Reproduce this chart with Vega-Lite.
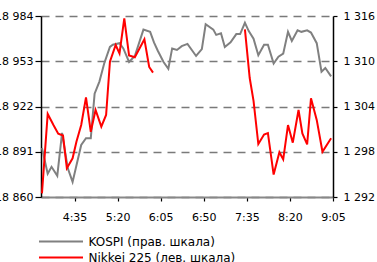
{
  "$schema": "https://vega.github.io/schema/vega-lite/v6.json",
  "width": 292,
  "height": 181,
  "autosize": {"type": "none"},
  "padding": {"left": 41, "top": 16, "right": 44, "bottom": 65},
  "background": "white",
  "config": {
    "font": "DejaVu Sans",
    "view": {"stroke": null},
    "axis": {"labelFont": "DejaVu Sans", "labelFontSize": 11, "labelColor": "#000", "domainColor": "#000", "tickColor": "#000", "domainWidth": 1.5, "tickWidth": 1.2, "title": null},
    "legend": {"labelFont": "DejaVu Sans", "labelFontSize": 12, "labelColor": "#000"}
  },
  "data": {"values": [
    {"index": "KOSPI", "session": 1, "time": "2024-01-01T04:01", "value": 1298.5},
    {"index": "KOSPI", "session": 1, "time": "2024-01-01T04:07", "value": 1295.1},
    {"index": "KOSPI", "session": 1, "time": "2024-01-01T04:11", "value": 1296.0},
    {"index": "KOSPI", "session": 1, "time": "2024-01-01T04:17", "value": 1294.8},
    {"index": "KOSPI", "session": 1, "time": "2024-01-01T04:22", "value": 1300.5},
    {"index": "KOSPI", "session": 1, "time": "2024-01-01T04:28", "value": 1295.8},
    {"index": "KOSPI", "session": 1, "time": "2024-01-01T04:33", "value": 1294.0},
    {"index": "KOSPI", "session": 1, "time": "2024-01-01T04:42", "value": 1298.9},
    {"index": "KOSPI", "session": 1, "time": "2024-01-01T04:47", "value": 1299.8},
    {"index": "KOSPI", "session": 1, "time": "2024-01-01T04:52", "value": 1299.8},
    {"index": "KOSPI", "session": 1, "time": "2024-01-01T04:56", "value": 1305.7},
    {"index": "KOSPI", "session": 1, "time": "2024-01-01T05:01", "value": 1307.3},
    {"index": "KOSPI", "session": 1, "time": "2024-01-01T05:06", "value": 1309.7},
    {"index": "KOSPI", "session": 1, "time": "2024-01-01T05:12", "value": 1311.9},
    {"index": "KOSPI", "session": 1, "time": "2024-01-01T05:15", "value": 1312.2},
    {"index": "KOSPI", "session": 1, "time": "2024-01-01T05:22", "value": 1312.4},
    {"index": "KOSPI", "session": 1, "time": "2024-01-01T05:26", "value": 1311.7},
    {"index": "KOSPI", "session": 1, "time": "2024-01-01T05:32", "value": 1309.9},
    {"index": "KOSPI", "session": 1, "time": "2024-01-01T05:38", "value": 1310.7},
    {"index": "KOSPI", "session": 1, "time": "2024-01-01T05:47", "value": 1314.2},
    {"index": "KOSPI", "session": 1, "time": "2024-01-01T05:54", "value": 1313.9},
    {"index": "KOSPI", "session": 1, "time": "2024-01-01T05:58", "value": 1312.5},
    {"index": "KOSPI", "session": 1, "time": "2024-01-01T06:02", "value": 1311.4},
    {"index": "KOSPI", "session": 1, "time": "2024-01-01T06:08", "value": 1309.9},
    {"index": "KOSPI", "session": 1, "time": "2024-01-01T06:13", "value": 1309.0},
    {"index": "KOSPI", "session": 1, "time": "2024-01-01T06:17", "value": 1311.7},
    {"index": "KOSPI", "session": 1, "time": "2024-01-01T06:22", "value": 1311.5},
    {"index": "KOSPI", "session": 1, "time": "2024-01-01T06:27", "value": 1312.0},
    {"index": "KOSPI", "session": 1, "time": "2024-01-01T06:33", "value": 1312.3},
    {"index": "KOSPI", "session": 1, "time": "2024-01-01T06:42", "value": 1310.7},
    {"index": "KOSPI", "session": 1, "time": "2024-01-01T06:48", "value": 1311.6},
    {"index": "KOSPI", "session": 1, "time": "2024-01-01T06:52", "value": 1314.9},
    {"index": "KOSPI", "session": 1, "time": "2024-01-01T07:00", "value": 1314.2},
    {"index": "KOSPI", "session": 1, "time": "2024-01-01T07:03", "value": 1313.5},
    {"index": "KOSPI", "session": 1, "time": "2024-01-01T07:08", "value": 1313.7},
    {"index": "KOSPI", "session": 1, "time": "2024-01-01T07:12", "value": 1311.9},
    {"index": "KOSPI", "session": 1, "time": "2024-01-01T07:18", "value": 1312.5},
    {"index": "KOSPI", "session": 1, "time": "2024-01-01T07:24", "value": 1313.6},
    {"index": "KOSPI", "session": 1, "time": "2024-01-01T07:28", "value": 1313.6},
    {"index": "KOSPI", "session": 1, "time": "2024-01-01T07:33", "value": 1315.1},
    {"index": "KOSPI", "session": 1, "time": "2024-01-01T07:37", "value": 1314.0},
    {"index": "KOSPI", "session": 1, "time": "2024-01-01T07:42", "value": 1313.0},
    {"index": "KOSPI", "session": 1, "time": "2024-01-01T07:47", "value": 1310.8},
    {"index": "KOSPI", "session": 1, "time": "2024-01-01T07:53", "value": 1312.2},
    {"index": "KOSPI", "session": 1, "time": "2024-01-01T07:57", "value": 1312.2},
    {"index": "KOSPI", "session": 1, "time": "2024-01-01T08:03", "value": 1309.7},
    {"index": "KOSPI", "session": 1, "time": "2024-01-01T08:08", "value": 1310.6},
    {"index": "KOSPI", "session": 1, "time": "2024-01-01T08:13", "value": 1311.0},
    {"index": "KOSPI", "session": 1, "time": "2024-01-01T08:18", "value": 1313.9},
    {"index": "KOSPI", "session": 1, "time": "2024-01-01T08:22", "value": 1312.7},
    {"index": "KOSPI", "session": 1, "time": "2024-01-01T08:28", "value": 1314.1},
    {"index": "KOSPI", "session": 1, "time": "2024-01-01T08:32", "value": 1313.9},
    {"index": "KOSPI", "session": 1, "time": "2024-01-01T08:38", "value": 1314.1},
    {"index": "KOSPI", "session": 1, "time": "2024-01-01T08:42", "value": 1313.8},
    {"index": "KOSPI", "session": 1, "time": "2024-01-01T08:48", "value": 1312.4},
    {"index": "KOSPI", "session": 1, "time": "2024-01-01T08:53", "value": 1308.6},
    {"index": "KOSPI", "session": 1, "time": "2024-01-01T08:57", "value": 1309.1},
    {"index": "KOSPI", "session": 1, "time": "2024-01-01T09:03", "value": 1308.0},
    {"index": "Nikkei 225", "session": 1, "time": "2024-01-01T04:01", "value": 18862.5},
    {"index": "Nikkei 225", "session": 1, "time": "2024-01-01T04:07", "value": 18916.9},
    {"index": "Nikkei 225", "session": 1, "time": "2024-01-01T04:13", "value": 18909.3},
    {"index": "Nikkei 225", "session": 1, "time": "2024-01-01T04:18", "value": 18903.4},
    {"index": "Nikkei 225", "session": 1, "time": "2024-01-01T04:23", "value": 18902.1},
    {"index": "Nikkei 225", "session": 1, "time": "2024-01-01T04:27", "value": 18879.7},
    {"index": "Nikkei 225", "session": 1, "time": "2024-01-01T04:33", "value": 18886.5},
    {"index": "Nikkei 225", "session": 1, "time": "2024-01-01T04:37", "value": 18897.9},
    {"index": "Nikkei 225", "session": 1, "time": "2024-01-01T04:42", "value": 18909.3},
    {"index": "Nikkei 225", "session": 1, "time": "2024-01-01T04:47", "value": 18928.3},
    {"index": "Nikkei 225", "session": 1, "time": "2024-01-01T04:52", "value": 18904.7},
    {"index": "Nikkei 225", "session": 1, "time": "2024-01-01T04:57", "value": 18919.6},
    {"index": "Nikkei 225", "session": 1, "time": "2024-01-01T05:03", "value": 18908.2},
    {"index": "Nikkei 225", "session": 1, "time": "2024-01-01T05:08", "value": 18916.2},
    {"index": "Nikkei 225", "session": 1, "time": "2024-01-01T05:12", "value": 18952.7},
    {"index": "Nikkei 225", "session": 1, "time": "2024-01-01T05:18", "value": 18964.1},
    {"index": "Nikkei 225", "session": 1, "time": "2024-01-01T05:22", "value": 18958.4},
    {"index": "Nikkei 225", "session": 1, "time": "2024-01-01T05:27", "value": 18982.4},
    {"index": "Nikkei 225", "session": 1, "time": "2024-01-01T05:32", "value": 18956.9},
    {"index": "Nikkei 225", "session": 1, "time": "2024-01-01T05:38", "value": 18955.7},
    {"index": "Nikkei 225", "session": 1, "time": "2024-01-01T05:48", "value": 18968.0},
    {"index": "Nikkei 225", "session": 1, "time": "2024-01-01T05:53", "value": 18949.1},
    {"index": "Nikkei 225", "session": 1, "time": "2024-01-01T05:57", "value": 18945.2},
    {"index": "Nikkei 225", "session": 2, "time": "2024-01-01T07:33", "value": 18974.9},
    {"index": "Nikkei 225", "session": 2, "time": "2024-01-01T07:38", "value": 18941.5},
    {"index": "Nikkei 225", "session": 2, "time": "2024-01-01T07:42", "value": 18925.8},
    {"index": "Nikkei 225", "session": 2, "time": "2024-01-01T07:47", "value": 18896.3},
    {"index": "Nikkei 225", "session": 2, "time": "2024-01-01T07:53", "value": 18902.8},
    {"index": "Nikkei 225", "session": 2, "time": "2024-01-01T07:57", "value": 18903.8},
    {"index": "Nikkei 225", "session": 2, "time": "2024-01-01T08:03", "value": 18875.4},
    {"index": "Nikkei 225", "session": 2, "time": "2024-01-01T08:09", "value": 18890.7},
    {"index": "Nikkei 225", "session": 2, "time": "2024-01-01T08:13", "value": 18885.8},
    {"index": "Nikkei 225", "session": 2, "time": "2024-01-01T08:18", "value": 18909.3},
    {"index": "Nikkei 225", "session": 2, "time": "2024-01-01T08:23", "value": 18897.2},
    {"index": "Nikkei 225", "session": 2, "time": "2024-01-01T08:29", "value": 18919.6},
    {"index": "Nikkei 225", "session": 2, "time": "2024-01-01T08:33", "value": 18903.6},
    {"index": "Nikkei 225", "session": 2, "time": "2024-01-01T08:38", "value": 18896.0},
    {"index": "Nikkei 225", "session": 2, "time": "2024-01-01T08:42", "value": 18927.6},
    {"index": "Nikkei 225", "session": 2, "time": "2024-01-01T08:48", "value": 18912.8},
    {"index": "Nikkei 225", "session": 2, "time": "2024-01-01T08:54", "value": 18891.0},
    {"index": "Nikkei 225", "session": 2, "time": "2024-01-01T09:03", "value": 18900.2}
  ]},
  "encoding": {
    "x": {
      "field": "time", "type": "temporal",
      "scale": {"domain": [{"year": 2024, "month": 1, "date": 1, "hours": 4, "minutes": 0}, {"year": 2024, "month": 1, "date": 1, "hours": 9, "minutes": 5}]},
      "axis": {
        "values": [
          {"year": 2024, "month": 1, "date": 1, "hours": 4, "minutes": 35},
          {"year": 2024, "month": 1, "date": 1, "hours": 5, "minutes": 20},
          {"year": 2024, "month": 1, "date": 1, "hours": 6, "minutes": 5},
          {"year": 2024, "month": 1, "date": 1, "hours": 6, "minutes": 50},
          {"year": 2024, "month": 1, "date": 1, "hours": 7, "minutes": 35},
          {"year": 2024, "month": 1, "date": 1, "hours": 8, "minutes": 20},
          {"year": 2024, "month": 1, "date": 1, "hours": 9, "minutes": 5}
        ],
        "format": "%-H:%M", "grid": false, "domainColor": "#888888", "domainWidth": 2,
        "tickSize": 4, "labelPadding": 10, "labelDx": -2, "labelFlush": false, "labelOverlap": false, "title": null
      }
    },
    "color": {
      "field": "index", "type": "nominal",
      "scale": {"domain": ["KOSPI", "Nikkei 225"], "range": ["#808080", "#ff0000"]},
      "legend": {
        "orient": "none", "legendX": 13.5, "legendY": 219, "title": null, "direction": "vertical",
        "symbolType": "M-4,0H4", "symbolSize": 121, "symbolStrokeWidth": 2, "padding": 0,
        "labelOffset": 21, "rowPadding": 3,
        "labelExpr": "datum.label == 'KOSPI' ? 'KOSPI (прав. шкала)' : 'Nikkei 225 (лев. шкала)'"
      }
    },
    "detail": {"field": "session", "type": "nominal"}
  },
  "layer": [
    {
      "transform": [{"filter": "datum.index == 'KOSPI'"}],
      "mark": {"type": "line", "strokeWidth": 2},
      "encoding": {
        "y": {
          "field": "value", "type": "quantitative",
          "scale": {"domain": [1292, 1316], "zero": false, "nice": false},
          "axis": {"orient": "right", "values": [1292, 1298, 1304, 1310, 1316], "grid": false,
                   "labelExpr": "replace(format(datum.value, ','), ',', ' ')", "tickSize": 4, "labelPadding": 6, "title": null}
        }
      }
    },
    {
      "transform": [{"filter": "datum.index == 'Nikkei 225'"}],
      "mark": {"type": "line", "strokeWidth": 2},
      "encoding": {
        "y": {
          "field": "value", "type": "quantitative",
          "scale": {"domain": [18860, 18984], "zero": false, "nice": false},
          "axis": {"orient": "left", "values": [18860, 18891, 18922, 18953, 18984], "grid": true,
                   "gridDash": [8, 6], "gridColor": "#7a7a7a", "gridWidth": 1.5,
                   "labelExpr": "replace(format(datum.value, ','), ',', ' ')", "tickSize": 6, "labelPadding": 2, "title": null}
        }
      }
    }
  ],
  "resolve": {"scale": {"y": "independent"}}
}
